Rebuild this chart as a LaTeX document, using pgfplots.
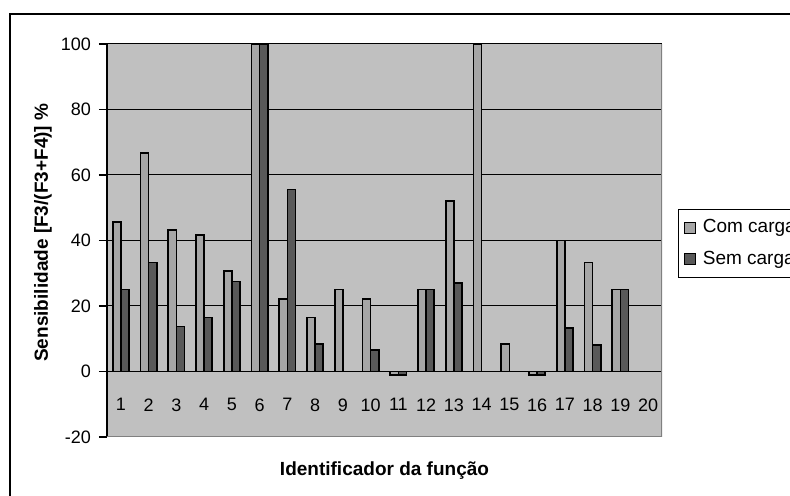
\documentclass[border=0pt]{standalone}
\usepackage{pgfplots}
\pgfplotsset{compat=1.18}
\usepackage{fontspec}
\setmainfont{Liberation Sans}
\definecolor{plotbg}{HTML}{C0C0C0}
\definecolor{lightbar}{HTML}{A6A6A6}
\definecolor{darkbar}{HTML}{595959}
\definecolor{framegray}{HTML}{808080}
\begin{document}
\begin{tikzpicture}
\useasboundingbox (0,0) rectangle (395pt,248pt);
\clip (0,0) rectangle (395pt,248pt);
\draw[line width=1pt] (5pt,-10pt) rectangle (420pt,241pt);
\begin{axis}[
  at={(53.5pt,29.5pt)}, anchor=south west,
  scale only axis, width=277.5pt, height=196.5pt,
  xmin=0.5, xmax=20.5, ymin=-20, ymax=100,
  axis x line=middle, axis y line=left,
  x axis line style={-, line width=0.6pt, black},
  y axis line style={-, line width=0.6pt, black},
  hide obscured x ticks=false, hide obscured y ticks=false,
  axis background/.style={fill=plotbg},
  xtick={1,...,20},
  xticklabels={1,2,3,4,5,6,7,8,9,10,11,12,13,14,15,16,17,18,19,20},
  minor xtick={0.5,1.5,...,20.5},
  ytick={-20,0,20,40,60,80,100},
  ymajorgrids, grid style={black, line width=0.5pt},
  tick align=outside,
  major tick length=4pt, minor tick length=3pt,
  xtick style={draw=none},
  minor x tick style={black, line width=0.6pt},
  ytick style={black, line width=0.6pt},
  /pgf/number format/assume math mode=true,
  tick label style={font=\fontsize{9}{10.8}\selectfont},
  xticklabel style={yshift=-6pt},
  yticklabel style={xshift=-0.5pt},
  xlabel={Identificador da função},
  ylabel={Sensibilidade [F3/(F3+F4)] \%},
  label style={font=\fontsize{9.5}{11}\selectfont\bfseries},
  xlabel style={at={(axis description cs:0.5,-0.0865)}, anchor=center},
  ylabel style={at={(axis description cs:-0.1153,0.52)}, anchor=center, rotate=0},
  ybar, bar width=0.29,
  legend cell align=left,
  legend style={at={(1.0288,0.58)}, anchor=north west, draw=black, fill=white,
    line width=0.5pt, font=\fontsize{9.5}{11}\selectfont,
    inner xsep=3pt, inner ysep=3pt, row sep=3.5pt},
  legend image code/.code={\draw[#1, line width=0.5pt] (0pt,-2.75pt) rectangle (5.5pt,2.75pt); \path (6.5pt,0pt);},
]
\addplot[fill=lightbar, draw=black, line width=0.85pt, bar shift=-0.145] coordinates {
 (1,45.6) (2,66.7) (3,43.1) (4,41.7) (5,30.6) (6,100) (7,22.2) (8,16.5) (9,25) (10,22.2)
 (11,-1) (12,25) (13,52) (14,100) (15,8.4) (16,-1) (17,40) (18,33.3) (19,25)};
\addlegendentry{Com carga}
\addplot[fill=darkbar, draw=black, line width=0.85pt, bar shift=0.145] coordinates {
 (1,25) (2,33.3) (3,13.7) (4,16.5) (5,27.5) (6,100) (7,55.6) (8,8.3) (10,6.5)
 (11,-1) (12,25) (13,27.1) (16,-1) (17,13.3) (18,8) (19,25)};
\addlegendentry{Sem carga}
\draw[framegray, line width=0.7pt] (rel axis cs:0,0) -- (rel axis cs:1,0) -- (rel axis cs:1,1);
\end{axis}
\end{tikzpicture}
\end{document}
